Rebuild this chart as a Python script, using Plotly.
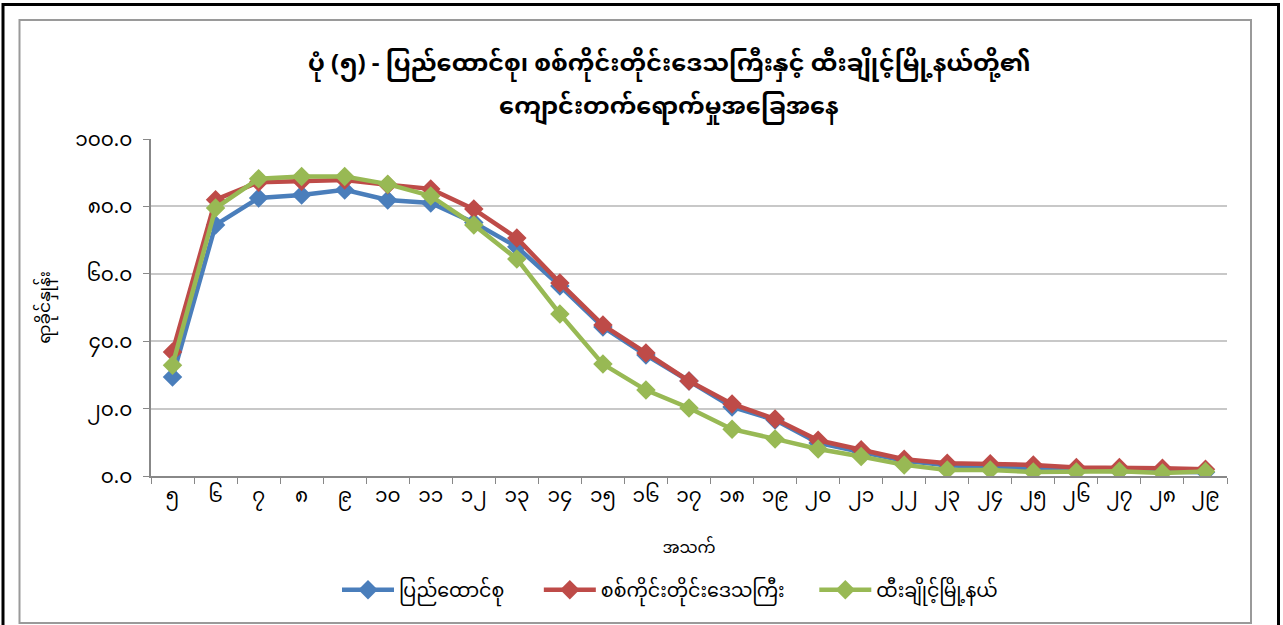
import plotly.graph_objects as go

ages = ["၅", "၆", "၇", "၈", "၉", "၁၀", "၁၁", "၁၂", "၁၃", "၁၄", "၁၅", "၁၆", "၁၇",
        "၁၈", "၁၉", "၂၀", "၂၁", "၂၂", "၂၃", "၂၄", "၂၅", "၂၆", "၂၇", "၂၈", "၂၉"]
union = [29.4, 74.5, 82.5, 83.4, 84.9, 81.9, 81.0, 75.2, 68.0, 56.4, 44.2, 35.9, 28.2,
         20.5, 16.6, 9.8, 7.1, 4.5, 3.2, 2.6, 2.0, 1.6, 1.5, 1.2, 1.1]
sagaing = [36.8, 82.0, 87.2, 87.5, 87.8, 86.4, 85.2, 79.2, 70.6, 57.3, 44.8, 36.5, 28.2,
           21.4, 16.9, 10.6, 7.8, 5.0, 3.8, 3.6, 3.3, 2.5, 2.5, 2.3, 2.0]
tigyaing = [32.9, 79.5, 88.2, 88.9, 88.9, 86.6, 83.1, 74.5, 64.4, 48.1, 33.2, 25.5, 20.2,
            13.9, 11.0, 8.0, 5.8, 3.3, 1.8, 1.8, 1.2, 1.2, 1.4, 0.9, 1.3]
series_names = ["ပြည်ထောင်စု", "စစ်ကိုင်းတိုင်းဒေသကြီး", "ထီးချိုင့်မြို့နယ်"]
colors = ["#4A7EBB", "#BE4B48", "#98B954"]
y_ticks = [0, 20, 40, 60, 80, 100]
y_tick_text = ["၀.၀", "၂၀.၀", "၄၀.၀", "၆၀.၀", "၈၀.၀", "၁၀၀.၀"]

title_line1 = "ပုံ (၅) - ပြည်ထောင်စု၊ စစ်ကိုင်းတိုင်းဒေသကြီးနှင့် ထီးချိုင့်မြို့နယ်တို့၏"
title_line2 = "ကျောင်းတက်ရောက်မှုအခြေအနေ"
x_title = "အသက်"
y_title = "ရာခိုင်နှုန်း"

W, H = 1283, 625
L, R, T, B = 151, 1227, 139, 476
pw, ph = R - L, B - T

def px(x):
    return (x - L) / pw

def py(y):
    return (B - y) / ph

# trailing padding for legend entry spacing (visual gap only)
pads = ["\u00a0" * 6, "\u00a0" * 5, ""]

fig = go.Figure()
for name, pad, vals, c in zip(series_names, pads, [union, sagaing, tigyaing], colors):
    fig.add_trace(go.Scatter(
        x=ages, y=vals, name=name + pad, mode="lines+markers",
        line=dict(color=c, width=4.5),
        marker=dict(symbol="diamond", size=15, color=c),
    ))

font_family = "Noto Sans Myanmar, Padauk, Myanmar Text, Noto Sans, DejaVu Sans, sans-serif"

fig.update_layout(
    width=W, height=H,
    margin=dict(l=L, r=W - R, t=T, b=H - B),
    paper_bgcolor="white", plot_bgcolor="white",
    font=dict(family=font_family, color="black", size=14),
    showlegend=True,
    legend=dict(orientation="h", x=px(670), xanchor="center", y=py(590), yanchor="middle",
                font=dict(size=19), itemwidth=52),
    xaxis=dict(
        type="category", showgrid=False, showline=True, linecolor="#888888", linewidth=1.5,
        ticks="outside", tickson="boundaries", ticklen=6, tickcolor="#888888",
        tickfont=dict(size=20),
        title=dict(text=x_title, font=dict(size=16), standoff=24),
        range=[-0.5, len(ages) - 0.5],
    ),
    yaxis=dict(
        range=[0, 100], tickvals=y_ticks, ticktext=y_tick_text,
        showgrid=True, gridcolor="#C8C8C8", gridwidth=1.5,
        showline=True, linecolor="#888888", linewidth=1.5,
        ticks="outside", ticklen=6, tickcolor="#888888",
        tickfont=dict(size=20), zeroline=False, ticklabelstandoff=7,
        title=dict(text=y_title, font=dict(size=17), standoff=20),
    ),
    annotations=[
        dict(text="<b>" + title_line1 + "</b>", xref="paper", yref="paper",
             x=px(669), y=py(66), xanchor="center", yanchor="middle", showarrow=False,
             font=dict(size=24)),
        dict(text="<b>" + title_line2 + "</b>", xref="paper", yref="paper",
             x=px(669), y=py(108), xanchor="center", yanchor="middle", showarrow=False,
             font=dict(size=24)),
    ],
    shapes=[
        dict(type="rect", xref="paper", yref="paper",
             x0=px(3), x1=px(1278.5), y0=py(640), y1=py(4.5),
             line=dict(color="black", width=3)),
        dict(type="rect", xref="paper", yref="paper",
             x0=px(19.5), x1=px(1251), y0=py(623), y1=py(20),
             line=dict(color="#9A9A9A", width=2)),
    ],
)

fig.write_html("out.html", config={"displayModeBar": False},
               post_script="document.body.style.margin='0';")
